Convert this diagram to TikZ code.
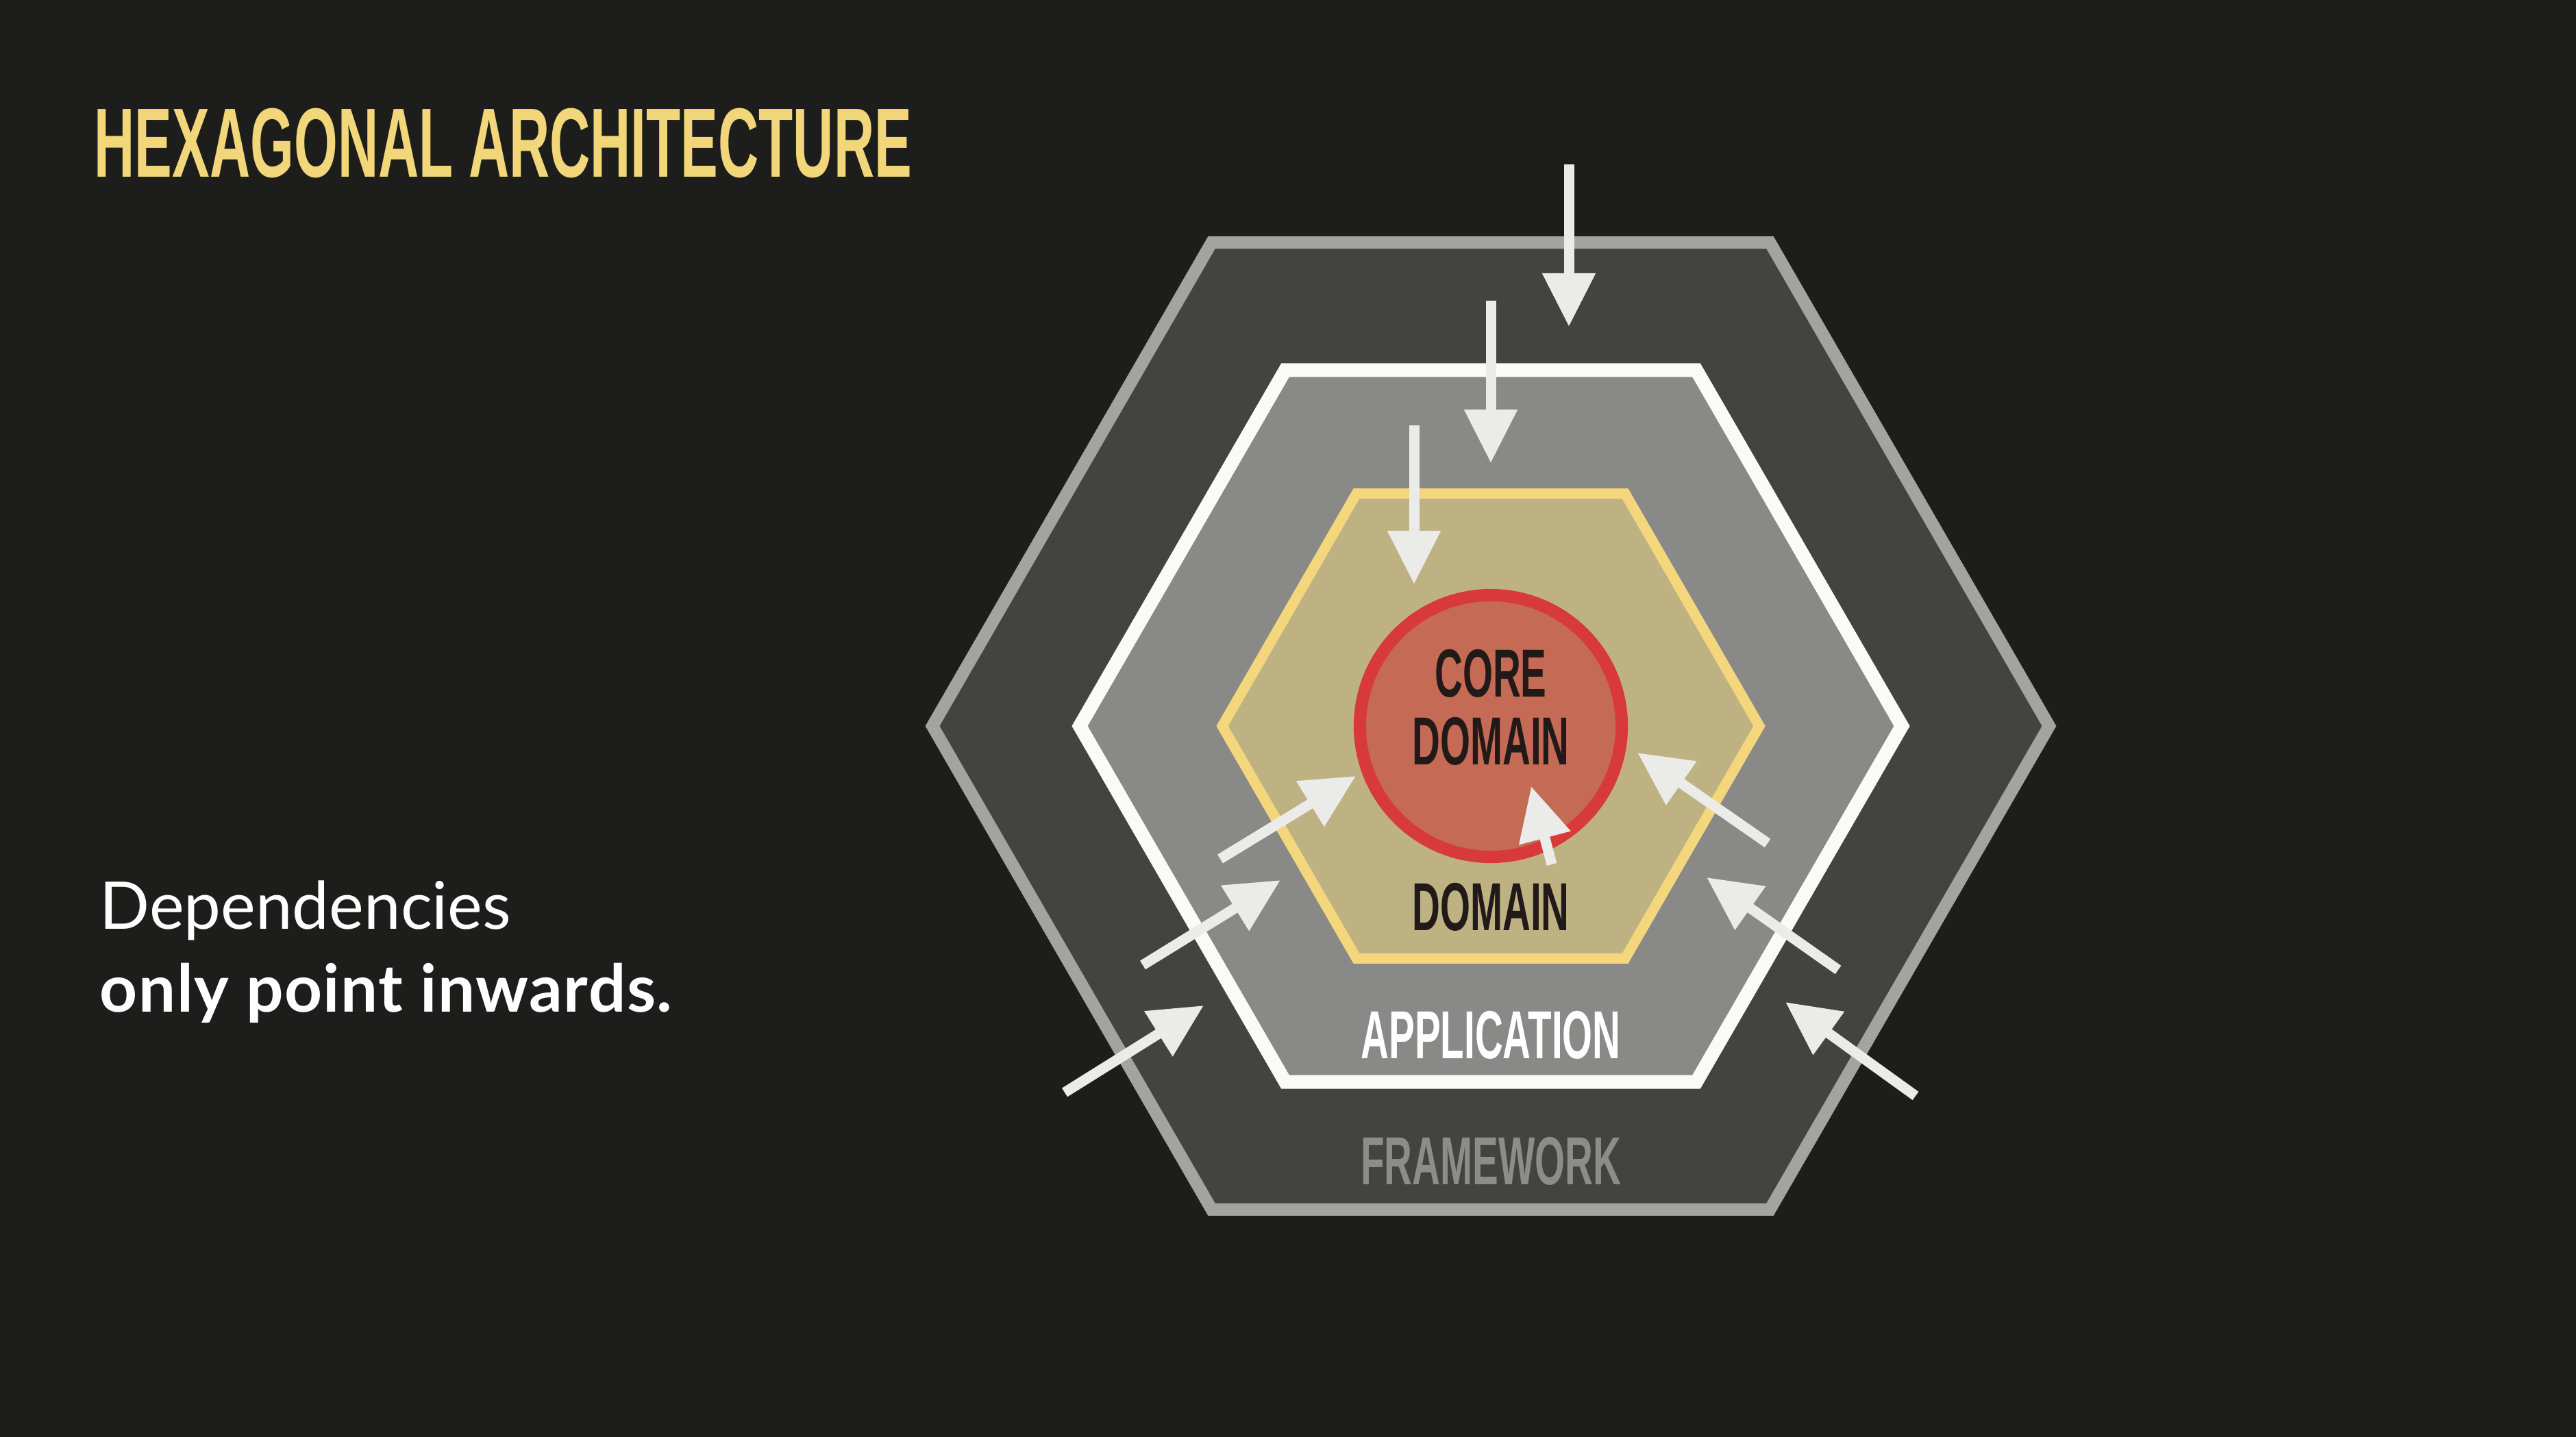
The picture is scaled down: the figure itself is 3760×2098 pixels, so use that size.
\documentclass[tikz,border=0pt]{standalone}
\usepackage{fontspec}
\usetikzlibrary{arrows.meta}

% condensed bold face for the title and the ring labels
\newfontfamily\condfont[FakeStretch=0.57]{Liberation Sans}
\newfontfamily\bodyfont{Lato}

\definecolor{bg}{HTML}{1D1E1C}
\definecolor{titlecol}{HTML}{F2D67A}
\definecolor{fwfill}{HTML}{434441}
\definecolor{fwline}{HTML}{A3A4A1}
\definecolor{appfill}{HTML}{898A87}
\definecolor{appline}{HTML}{FAFAF8}
\definecolor{domfill}{HTML}{BEB283}
\definecolor{domline}{HTML}{F4D67C}
\definecolor{corefill}{HTML}{C56B55}
\definecolor{coreline}{HTML}{D8393A}
\definecolor{darktext}{HTML}{221A18}
\definecolor{fwtext}{HTML}{8C8D8A}
\definecolor{arrowcol}{HTML}{EBEBE9}

\tikzset{
  ringlabel/.style={font=\condfont\bfseries\fontsize{28.2pt}{28.2pt}\selectfont, inner sep=0pt},
  hexring/.style={line join=miter},
  dep/.style={draw=arrowcol, line width=0.15cm,
    -{Triangle[length=0.78cm, width=0.74cm]}},
}

\begin{document}
\begin{tikzpicture}[x=0.01cm, y=-0.01cm]
\useasboundingbox (0,0) rectangle (3760,2098);
\fill[bg] (0,0) rectangle (3760,2098);

% title and caption
\node[font=\condfont\bfseries\fontsize{40.9pt}{40.9pt}\selectfont, text=titlecol,
      anchor=base west, inner sep=0pt] (title) at (137,259) {HEXAGONAL ARCHITECTURE};
\node[font=\bodyfont\fontsize{27.3pt}{32pt}\selectfont, text=white,
      anchor=base west, inner sep=0pt] (dep1) at (145,1356) {Dependencies};
\node[font=\bodyfont\bfseries\fontsize{27.3pt}{32pt}\selectfont\addfontfeature{LetterSpace=1.6}, text=white,
      anchor=base west, inner sep=0pt] (dep2) at (145,1477) {only point inwards.};

% nested layers
\coordinate (hc) at (2176,1060);
\draw[hexring, fill=fwfill, draw=fwline, line width=0.18cm, shift={(hc)}]
  (0:815) -- (60:815) -- (120:815) -- (180:815) -- (240:815) -- (300:815) -- cycle;
\draw[hexring, fill=appfill, draw=appline, line width=0.2cm, shift={(hc)}]
  (0:600) -- (60:600) -- (120:600) -- (180:600) -- (240:600) -- (300:600) -- cycle;
\draw[hexring, fill=domfill, draw=domline, line width=0.15cm, shift={(hc)}]
  (0:392) -- (60:392) -- (120:392) -- (180:392) -- (240:392) -- (300:392) -- cycle;
\node[circle, draw=coreline, fill=corefill, line width=0.18cm,
      minimum size=3.82cm, inner sep=0pt] (core) at (hc) {};

% layer names
\node[ringlabel, text=darktext, align=center] (coretxt) at (2176,1033) {CORE\\DOMAIN};
\node[ringlabel, text=darktext, anchor=base] (domtxt) at (2176,1358) {DOMAIN};
\node[ringlabel, text=white, anchor=base] (apptxt) at (2176,1545) {APPLICATION};
\node[ringlabel, text=fwtext, anchor=base] (fwtxt) at (2176,1729) {FRAMEWORK};

% dependency arrows
\coordinate (a1s) at (2290,240);  \coordinate (a1e) at (2290,477);
\coordinate (a2s) at (2176,439);  \coordinate (a2e) at (2176,676);
\coordinate (a3s) at (2064,621);  \coordinate (a3e) at (2064,853);
\coordinate (l1s) at (1781,1254); \coordinate (l1e) at (1979,1133);
\coordinate (l2s) at (1668,1409); \coordinate (l2e) at (1869,1285);
\coordinate (l3s) at (1554,1595); \coordinate (l3e) at (1757,1468);
\coordinate (r1s) at (2580,1231); \coordinate (r1e) at (2390,1099);
\coordinate (r2s) at (2683,1416); \coordinate (r2e) at (2491,1281);
\coordinate (r3s) at (2796,1600); \coordinate (r3e) at (2606,1463);
\coordinate (c1s) at (2265,1262); \coordinate (c1e) at (2235,1148);

\draw[dep] (a1s) -- (a1e);
\draw[dep] (a2s) -- (a2e);
\draw[dep] (a3s) -- (a3e);
\draw[dep] (l1s) -- (l1e);
\draw[dep] (l2s) -- (l2e);
\draw[dep] (l3s) -- (l3e);
\draw[dep] (r1s) -- (r1e);
\draw[dep] (r2s) -- (r2e);
\draw[dep] (r3s) -- (r3e);
\draw[dep] (c1s) -- (c1e);
\end{tikzpicture}
\end{document}
